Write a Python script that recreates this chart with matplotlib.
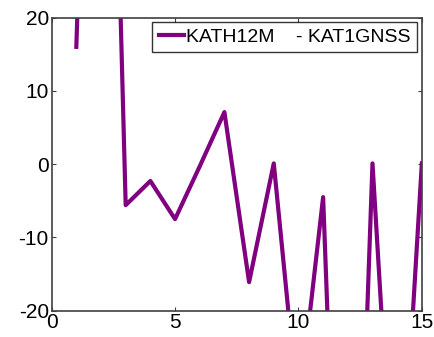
import matplotlib
matplotlib.use("Agg")
import matplotlib.pyplot as plt

plt.rcParams['font.family'] = ['Liberation Sans', 'DejaVu Sans']
plt.rcParams['axes.unicode_minus'] = False

x_vals = [1, 2, 3, 4, 5, 6, 7, 8, 9, 10, 11, 12, 13, 14, 15]
diff_vals = [16, 120, -5.6, -2.3, -7.5, -0.3, 7.1, -16.1, 0.1, -34, -4.5, -95, 0.1, -56, 0.1]
series_label = "KATH12M    - KAT1GNSS"
x_ticks = [0, 5, 10, 15]
y_ticks = [-20, -10, 0, 10, 20]

fig = plt.figure(figsize=(4.34, 3.37), dpi=100)
ax = fig.add_axes([0.119, 0.078, 0.853, 0.870])
ax.plot(x_vals, diff_vals, color='#800080', linewidth=3, label=series_label)
ax.set_xlim(0, 15)
ax.set_ylim(-20, 20)
ax.set_xticks(x_ticks)
ax.set_yticks(y_ticks)
ax.tick_params(direction='in', top=True, right=True, labelsize=15, length=3, color='#404040', pad=2)
for s in ax.spines.values():
    s.set_color('#404040')
    s.set_linewidth(1.2)
leg = ax.legend(loc='upper right', fontsize=14, frameon=True, fancybox=False,
                edgecolor='black', handlelength=1.3, handletextpad=0.12,
                borderaxespad=0.25, borderpad=0.32)
leg.get_frame().set_linewidth(1.0)
fig.savefig('out.png', dpi=100)
